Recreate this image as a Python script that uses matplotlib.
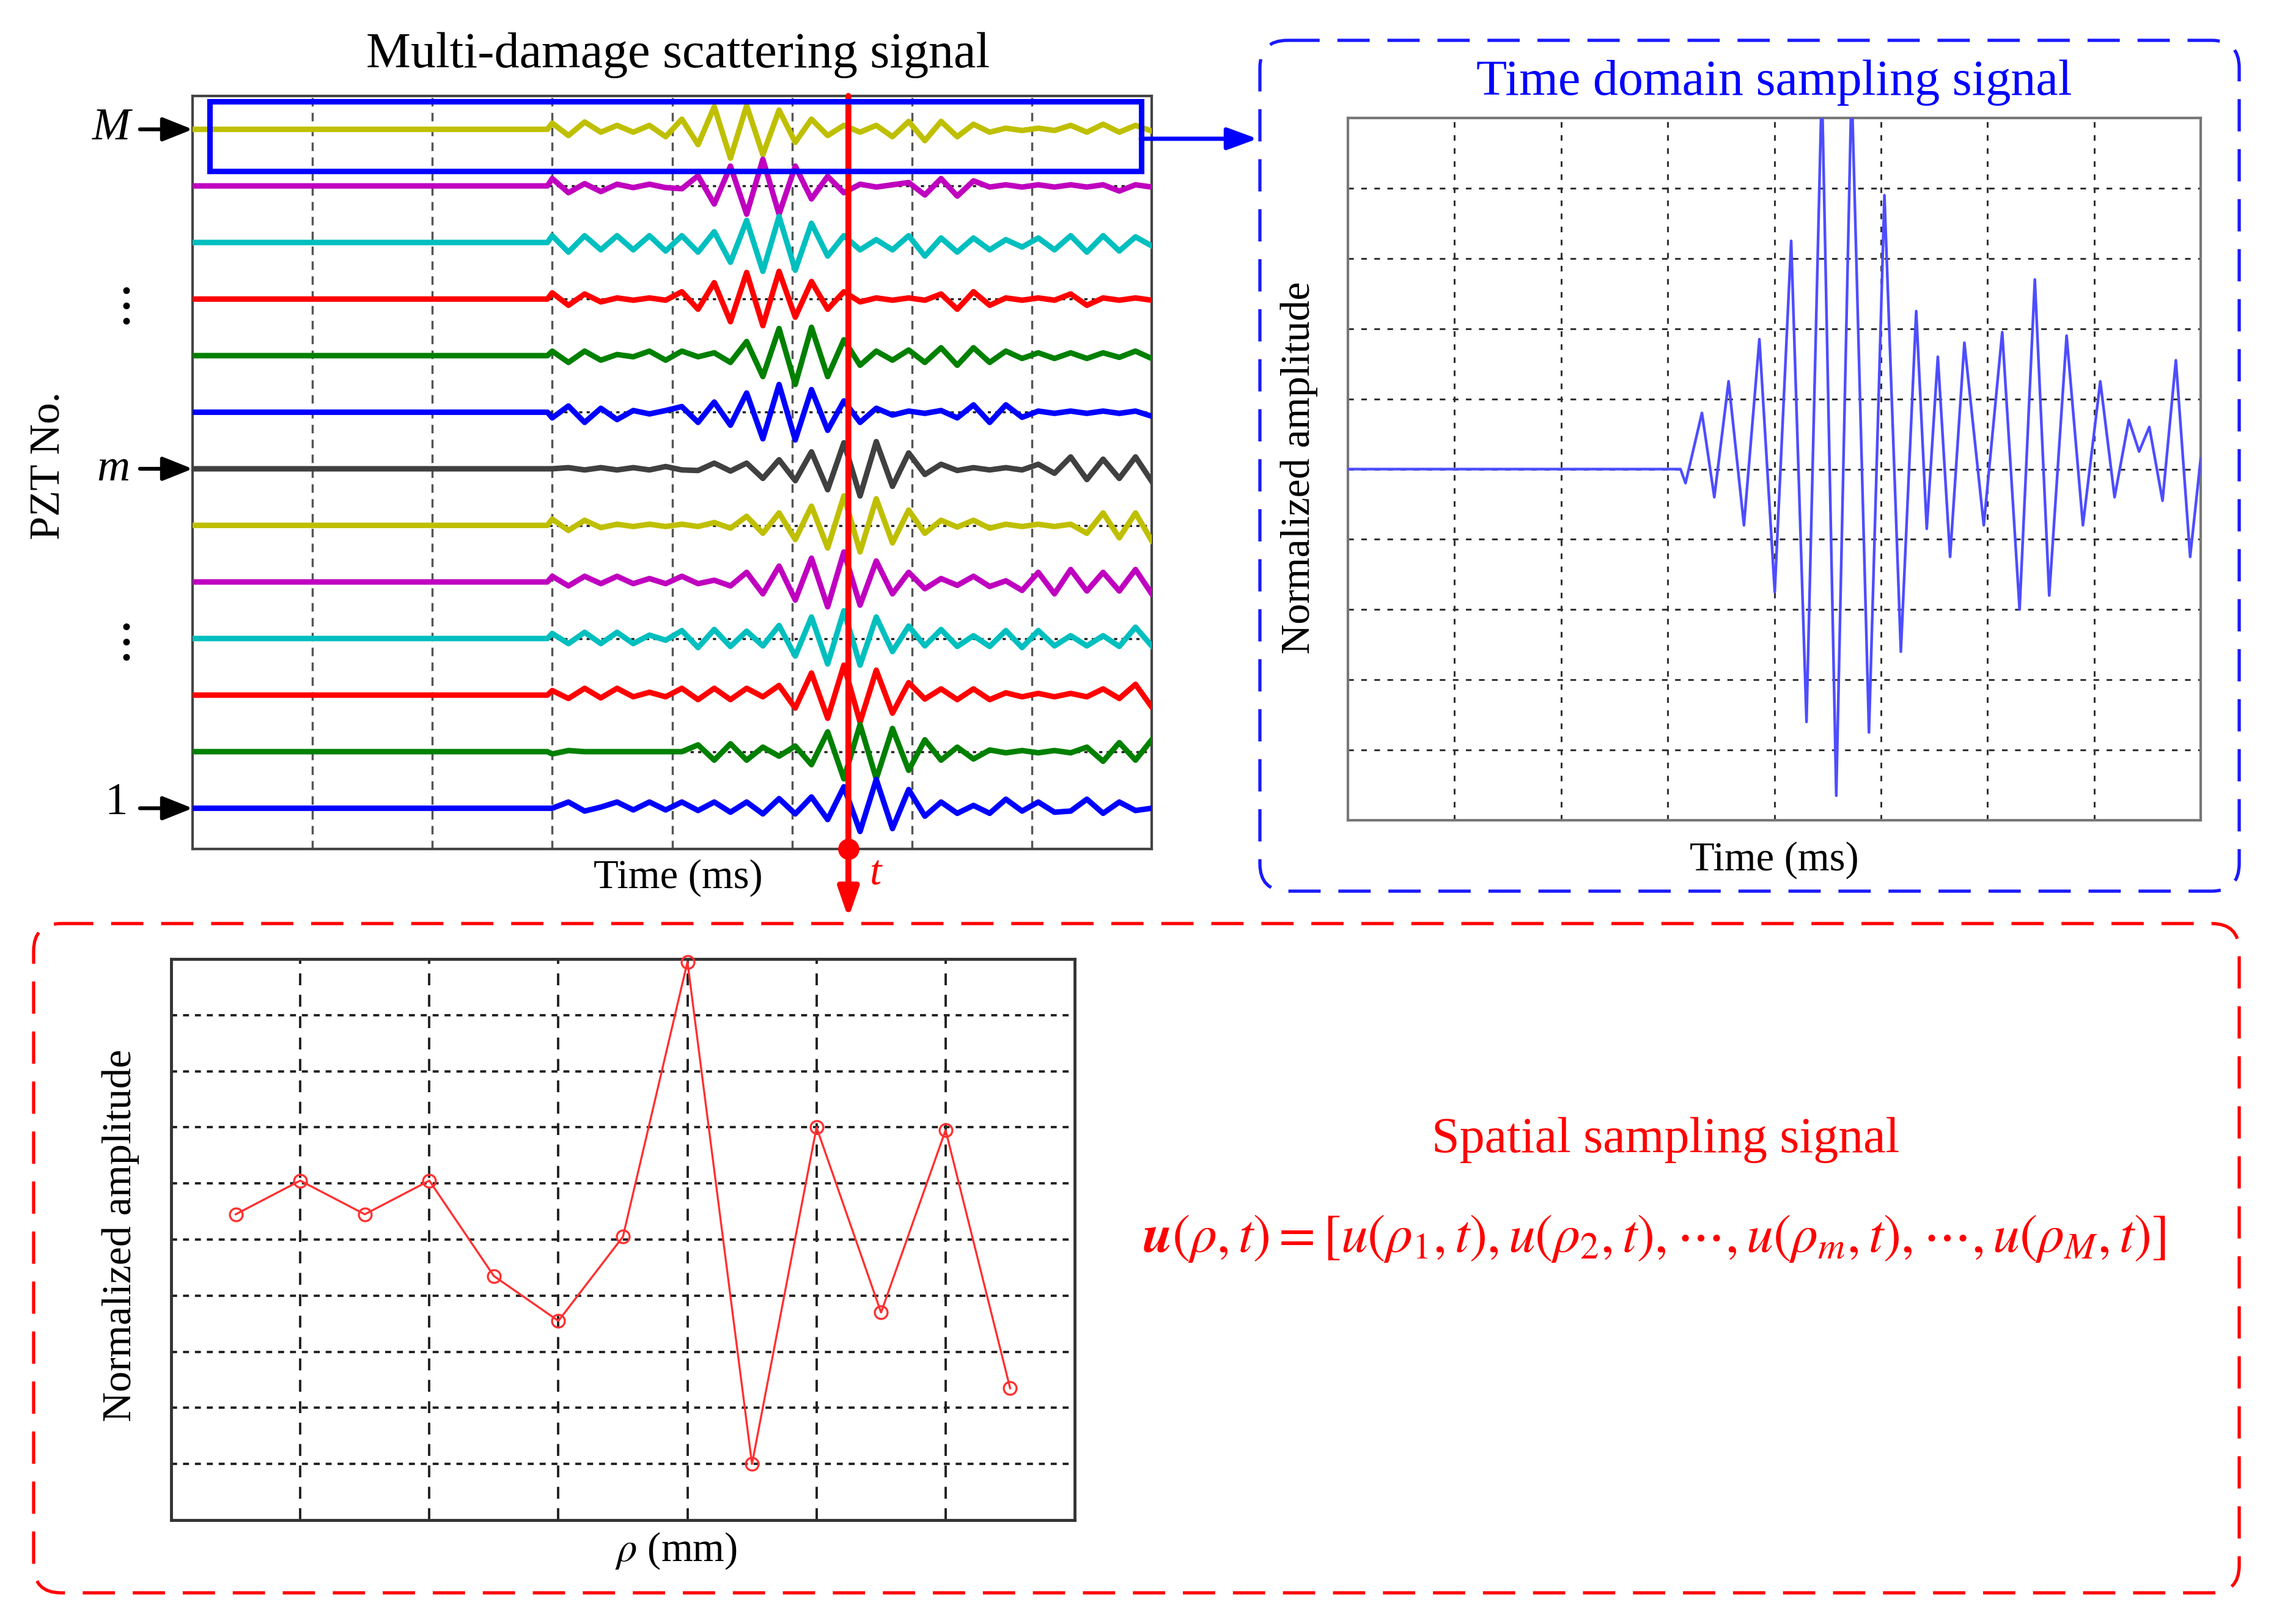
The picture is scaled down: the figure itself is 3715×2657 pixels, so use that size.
import matplotlib.pyplot as plt
import numpy as np
from matplotlib.patches import FancyBboxPatch, Rectangle

plt.rcParams['font.family'] = ['Liberation Serif', 'DejaVu Serif']
plt.rcParams['mathtext.fontset'] = 'stix'

# ---------------- data ----------------
# successive extrema of every PZT trace after the wave arrives (in row units),
# from the top trace (PZT M) down to PZT 1
trace_13 = [0.11, -0.11, 0.13, -0.05, 0.07, -0.05, 0.07, -0.13, 0.18, -0.27, 0.40, -0.51, 0.42, -0.45, 0.34, -0.23, 0.18, -0.11, 0.07,
            -0.05, 0.07, -0.13, 0.14, -0.20, 0.14, -0.13, 0.09, -0.05, 0.02, -0.02, 0.02, -0.02, 0.07, -0.05, 0.09, -0.05, 0.07, -0.03]
trace_12 = [0.13, -0.12, 0.04, -0.10, 0.03, -0.03, 0.03, -0.03, -0.05, 0.18, -0.32, 0.35, -0.50, 0.47, -0.50, 0.35, -0.23, 0.17, -0.12,
            0.03, -0.02, 0.02, 0.06, -0.16, 0.13, -0.18, 0.09, -0.02, 0.02, -0.02, 0.02, -0.02, 0.02, -0.02, 0.02, -0.09, 0.02, -0.02]
trace_11 = [0.12, -0.17, 0.12, -0.13, 0.12, -0.13, 0.12, -0.15, 0.12, -0.17, 0.19, -0.35, 0.39, -0.51, 0.46, -0.49, 0.34, -0.24, 0.12,
            -0.13, 0.05, -0.13, 0.12, -0.24, 0.08, -0.17, 0.08, -0.13, 0.05, -0.08, 0.08, -0.13, 0.12, -0.17, 0.12, -0.15, 0.10, -0.06]
trace_10 = [0.11, -0.11, 0.09, -0.05, 0.02, -0.02, 0.02, -0.02, 0.13, -0.18, 0.29, -0.40, 0.47, -0.47, 0.49, -0.32, 0.31, -0.18, 0.13,
            -0.05, 0.02, -0.02, 0.02, -0.02, 0.09, -0.18, 0.13, -0.11, 0.02, -0.02, 0.02, -0.02, 0.09, -0.11, 0.02, -0.02, 0.02, -0.02]
trace_9 = [0.08, -0.12, 0.08, -0.08, 0.02, -0.02, 0.08, -0.08, 0.08, -0.02, 0.05, -0.12, 0.25, -0.37, 0.48, -0.51, 0.50, -0.37, 0.28,
           -0.17, 0.08, -0.08, 0.10, -0.12, 0.14, -0.17, 0.14, -0.12, 0.08, -0.05, 0.05, -0.05, 0.05, -0.05, 0.05, -0.03, 0.08, -0.05]
trace_8 = [-0.10, 0.11, -0.18, 0.07, -0.13, 0.03, -0.03, 0.03, 0.10, -0.18, 0.18, -0.23, 0.34, -0.47, 0.49, -0.49, 0.40, -0.32, 0.20,
           -0.18, 0.07, -0.05, 0.02, -0.02, 0.03, -0.10, 0.13, -0.18, 0.13, -0.09, 0.02, -0.02, 0.02, -0.02, 0.02, -0.02, 0.02, -0.07]
trace_7 = [0.00, 0.02, -0.02, 0.02, -0.02, 0.02, -0.02, 0.04, -0.02, -0.03, 0.10, -0.04, 0.10, -0.17, 0.16, -0.21, 0.30, -0.37, 0.46,
           -0.48, 0.48, -0.31, 0.28, -0.10, 0.08, -0.03, 0.02, -0.02, 0.02, -0.02, 0.08, -0.08, 0.21, -0.19, 0.17, -0.17, 0.21, -0.22]
trace_6 = [0.11, -0.09, 0.09, -0.04, 0.02, -0.02, 0.02, -0.02, 0.02, -0.02, 0.05, -0.05, 0.16, -0.14, 0.22, -0.25, 0.34, -0.40, 0.52,
           -0.47, 0.47, -0.31, 0.27, -0.14, 0.09, -0.03, 0.09, -0.05, 0.02, -0.02, 0.02, -0.02, 0.02, -0.14, 0.22, -0.22, 0.22, -0.27]
trace_5 = [0.10, -0.07, 0.10, -0.03, 0.10, -0.03, 0.06, -0.03, 0.10, -0.03, 0.03, -0.07, 0.17, -0.21, 0.28, -0.32, 0.42, -0.44, 0.53,
           -0.41, 0.37, -0.21, 0.17, -0.12, 0.06, -0.06, 0.10, -0.08, 0.02, -0.15, 0.17, -0.21, 0.22, -0.16, 0.17, -0.16, 0.22, -0.21]
trace_4 = [0.09, -0.09, 0.11, -0.09, 0.11, -0.09, 0.06, -0.03, 0.14, -0.16, 0.16, -0.14, 0.13, -0.13, 0.23, -0.31, 0.38, -0.45, 0.49,
           -0.47, 0.38, -0.23, 0.22, -0.13, 0.16, -0.14, 0.05, -0.14, 0.14, -0.16, 0.14, -0.13, 0.05, -0.13, 0.05, -0.14, 0.20, -0.13]
trace_3 = [0.08, -0.06, 0.12, -0.05, 0.12, -0.03, 0.05, -0.03, 0.12, -0.08, 0.12, -0.08, 0.12, -0.03, 0.17, -0.23, 0.39, -0.41, 0.53,
           -0.48, 0.44, -0.32, 0.22, -0.07, 0.11, -0.08, 0.11, -0.08, 0.04, -0.03, 0.03, -0.03, 0.03, -0.03, 0.11, -0.06, 0.19, -0.21]
trace_2 = [-0.04, 0.02, 0.00, 0.00, 0.00, 0.00, 0.00, 0.00, 0.00, 0.12, -0.15, 0.14, -0.15, 0.08, -0.08, 0.10, -0.23, 0.35, -0.48,
           0.48, -0.48, 0.41, -0.33, 0.21, -0.15, 0.08, -0.13, 0.03, -0.02, 0.02, -0.02, 0.02, -0.02, 0.08, -0.17, 0.16, -0.15, 0.21]
trace_1 = [0.00, 0.11, -0.05, 0.02, 0.11, -0.03, 0.11, -0.03, 0.11, -0.04, 0.11, -0.07, 0.11, -0.10, 0.17, -0.10, 0.20, -0.20, 0.38,
           -0.41, 0.51, -0.36, 0.33, -0.14, 0.11, -0.09, 0.05, -0.09, 0.16, -0.05, 0.11, -0.07, -0.05, 0.16, -0.09, 0.11, -0.04, 0.00]
trace_colors = ['#bfbf00', '#bf00bf', '#00bfbf', '#ff0000', '#008000', '#0000ff', '#404040',
                '#bfbf00', '#bf00bf', '#00bfbf', '#ff0000', '#008000', '#0000ff']
arrival = 3.0
t_end = 8.0
t_mark = 5.47

# time domain sampling signal (extrema, normalised)
td_time = [0.0, 3.12, 3.167, 3.321, 3.437, 3.571, 3.715, 3.860, 4.004, 4.158, 4.302, 4.446, 4.581, 4.725, 4.888, 5.033,
           5.187, 5.331, 5.43, 5.534, 5.649, 5.783, 5.965, 6.138, 6.301, 6.444, 6.579, 6.742, 6.895, 7.058, 7.192, 7.326,
           7.422, 7.518, 7.642, 7.767, 7.901, 8.0]
td_amp = [0.0, 0.0, -0.04, 0.16, -0.08, 0.25, -0.16, 0.37, -0.35, 0.65, -0.72, 1.1, -0.93, 1.1, -0.75, 0.78,
          -0.52, 0.45, -0.17, 0.32, -0.25, 0.36, -0.16, 0.39, -0.40, 0.54, -0.36, 0.38, -0.16, 0.25, -0.08, 0.14,
          0.05, 0.12, -0.09, 0.31, -0.25, 0.03]

# spatial sampling signal at time t
rho = [0.5, 1.0, 1.5, 2.0, 2.5, 3.0, 3.5, 4.0, 4.5, 5.0, 5.5, 6.0, 6.5]
rho_amp = [0.09, 0.21, 0.09, 0.21, -0.13, -0.29, 0.01, 0.99, -0.80, 0.40, -0.26, 0.39, -0.53]

formula = (r'$\mathbfit{u}\left(\rho,t\right)=\left[u\left(\rho_1,t\right),u\left(\rho_2,t\right),\cdots,'
           r'u\left(\rho_m,t\right),\cdots,u\left(\rho_M,t\right)\right]$')

# ---------------- figure ----------------
W, H = 3715, 2657
fig = plt.figure(figsize=(W / 100, H / 100), dpi=100)


def box_axes(x0, y0, x1, y1):
    return fig.add_axes([x0 / W, 1 - y1 / H, (x1 - x0) / W, (y1 - y0) / H])


def plain(ax, spine_color, spine_lw):
    ax.tick_params(length=0, labelbottom=False, labelleft=False)
    for sp in ax.spines.values():
        sp.set_color(spine_color)
        sp.set_linewidth(spine_lw)


# multi-damage scattering signals
ax1 = box_axes(315, 157, 1884, 1389)
traces = [trace_13, trace_12, trace_11, trace_10, trace_9, trace_8, trace_7,
          trace_6, trace_5, trace_4, trace_3, trace_2, trace_1]
t_wave = np.linspace(arrival, t_end, len(trace_13))
t_full = np.concatenate([[0, arrival - 0.04], t_wave])
for i, (tr, c) in enumerate(zip(traces, trace_colors)):
    row = len(traces) - i
    ax1.plot(t_full, row + np.concatenate([[0, 0], tr]), color=c, lw=6.5,
             solid_joinstyle='round', zorder=3)
ax1.set_xlim(0, 8)
ax1.set_ylim(0.28, 13.59)
ax1.set_xticks(range(1, 8))
ax1.set_yticks(range(2, 13, 2))
ax1.xaxis.grid(True, ls=(0, (4, 3)), color='#555555', lw=2.5)
ax1.yaxis.grid(True, ls=(0, (1.5, 2)), color='#222222', lw=2.5)
ax1.set_axisbelow(True)
plain(ax1, '#444444', 3)

ax1.add_patch(Rectangle((0.143, 12.26), 7.77, 1.23, fill=False, ec='#0000ff', lw=6.5, zorder=6))
ax1.annotate('', xy=(t_mark, -0.092), xycoords=('data', 'axes fraction'),
             xytext=(t_mark, 1.0), textcoords=('data', 'axes fraction'),
             arrowprops=dict(arrowstyle='-|>,head_length=1.45,head_width=0.5', color='red', lw=7,
                             shrinkA=0, shrinkB=0, mutation_scale=20),
             annotation_clip=False, zorder=5)
ax1.plot(t_mark, 0.28, 'o', ms=24, color='red', clip_on=False, zorder=7)
for row in (13, 7, 1):
    ax1.annotate('', xy=(0, row), xytext=(-62, 0), textcoords='offset points',
                 arrowprops=dict(arrowstyle='-|>,head_length=1.5,head_width=0.6', color='black', lw=4.5,
                                 shrinkA=0, shrinkB=0, mutation_scale=20),
                 annotation_clip=False)

# time domain sampling signal
ax2 = box_axes(2205, 193, 3600, 1342)
ax2.plot(td_time, td_amp, color='#4d4dff', lw=3.2, zorder=3)
ax2.set_xlim(0, 8)
ax2.set_ylim(-1, 1)
ax2.set_xticks(range(1, 8))
ax2.set_yticks(np.arange(-0.8, 0.81, 0.2))
ax2.grid(True, ls=(0, (3, 4)), color='#333333', lw=2.2)
ax2.set_axisbelow(True)
plain(ax2, '#777777', 3)

# spatial sampling signal
ax3 = box_axes(280, 1569, 1758, 2487)
ax3.plot(rho, rho_amp, '-o', color='#ff3030', lw=2.4, ms=15, mfc='none', mew=2.4, clip_on=False, zorder=3)
ax3.set_xlim(0, 7)
ax3.set_ylim(-1, 1)
ax3.set_xticks(range(1, 7))
ax3.set_yticks(np.arange(-0.8, 0.81, 0.2))
ax3.xaxis.grid(True, ls=(0, (5, 4)), color='#222222', lw=2.8)
ax3.yaxis.grid(True, ls=(0, (2.5, 2.5)), color='#222222', lw=2.8)
ax3.set_axisbelow(True)
plain(ax3, '#333333', 3.5)

# overlay in pixel units for frames, arrows and texts
ov = fig.add_axes([0, 0, 1, 1])
ov.set_xlim(0, W)
ov.set_ylim(H, 0)
ov.axis('off')
ov.patch.set_alpha(0)
ov.set_zorder(5)

ov.add_patch(FancyBboxPatch((2061, 66), 1602, 1392, boxstyle='round,pad=0,rounding_size=45',
                            fill=False, ec='#1a1aff', lw=3.8, ls=(0, (10, 5.5))))
ov.add_patch(FancyBboxPatch((55, 1511), 3608, 1095, boxstyle='round,pad=0,rounding_size=45',
                            fill=False, ec='#ff0000', lw=3.8, ls=(0, (10, 5.5))))
ov.annotate('', xy=(2057, 227), xytext=(1866, 227),
            arrowprops=dict(arrowstyle='-|>,head_length=1.5,head_width=0.55', color='#0000ff', lw=5,
                            shrinkA=0, shrinkB=0, mutation_scale=20))

ov.text(1109, 90, 'Multi-damage scattering signal', ha='center', va='center', fontsize=59)
ov.text(1109, 1436, 'Time (ms)', ha='center', va='center', fontsize=48)
ov.text(80, 762, 'PZT No.', ha='center', va='center', rotation=90, fontsize=50)
ov.text(182, 210, 'M', ha='center', va='center', style='italic', fontsize=54)
ov.text(185, 768, 'm', ha='center', va='center', style='italic', fontsize=54)
ov.text(190, 1314, '1', ha='center', va='center', fontsize=54)
ov.text(199, 501, r'$\vdots$', ha='center', va='center', fontsize=62)
ov.text(199, 1051, r'$\vdots$', ha='center', va='center', fontsize=62)
ov.text(1433, 1431, 't', ha='center', va='center', style='italic', color='red', fontsize=50)

ov.text(2902, 135, 'Time domain sampling signal', ha='center', va='center', color='#0000ff', fontsize=59)
ov.text(2902, 1407, 'Time (ms)', ha='center', va='center', fontsize=48)
ov.text(2125, 765, 'Normalized amplitude', ha='center', va='center', rotation=90, fontsize=49)

ov.text(197, 2021, 'Normalized amplitude', ha='center', va='center', rotation=90, fontsize=49)
ov.text(1106, 2537, r'$\rho$ (mm)', ha='center', va='center', fontsize=48)
ov.text(2725, 1865, 'Spatial sampling signal', ha='center', va='center', color='red', fontsize=59)
ov.text(2706, 2026, formula, ha='center', va='center', color='red', fontsize=63)

fig.savefig('out.png', dpi=100)
